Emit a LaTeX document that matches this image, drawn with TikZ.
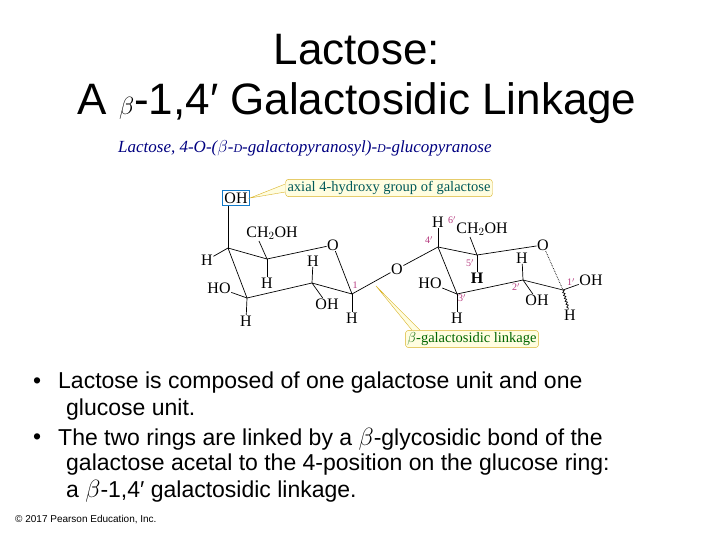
\documentclass[tikz,border=0pt]{standalone}
\usepackage{fontspec}
\setmainfont{Liberation Sans}
\newfontfamily\serif{Liberation Serif}
\usetikzlibrary{decorations.pathmorphing}
\newcommand{\smD}{{\fontsize{12}{12}\selectfont D}}
\begin{document}
\begin{tikzpicture}[x=1pt,y=-1pt,
  atm/.style={font=\serif\fontsize{16}{16}\selectfont,inner sep=0.5pt},
  num/.style={font=\serif\fontsize{10}{10}\selectfont,text=magenta!70!black,inner sep=0pt},
  bond/.style={line width=0.7pt},
  call/.style={draw=brown!60!yellow,fill=yellow!12,rounded corners=3pt,font=\serif\fontsize{14.5}{14.5}\selectfont,text=teal!70!black,inner sep=2pt},
  btxt/.style={anchor=west,font=\fontsize{23}{23}\selectfont,inner sep=0}]
\useasboundingbox (0,0) rectangle (720,540);
\node (t1) at (357,50) {\fontsize{44}{44}\selectfont Lactose:};
\node (t2) at (357,103) {\fontsize{44}{44}\selectfont A $\beta$-1,4′ Galactosidic Linkage};
\node[anchor=west,text=blue!50!black,inner sep=0] (sub) at (118,148) {\serif\itshape\fontsize{17}{17}\selectfont Lactose, 4-O-($\beta$-\smD-galactopyranosyl)-\smD-glucopyranose};
% galactose ring
\coordinate (c4) at (228,248); \coordinate (c5) at (267,259);
\coordinate (o5) at (333,245); \coordinate (c1) at (352,294);
\coordinate (c2) at (312,283); \coordinate (c3) at (247,298);
\node[atm] (o5n) at (o5) {O};
\draw[bond] (c4)--(c5)--(o5n) (o5n)--(c1)--(c2)--(c3)--(c4);
\node[atm,draw=cyan!60!blue,line width=0.9pt,inner sep=2pt] (ohbox) at (236,198) {OH};
\draw[bond] (c4)--(ohbox.south -| c4);
\node[atm] (h4) at (207,260) {H}; \draw[bond] (c4)--(h4);
\node[atm] (ch2a) at (272,233) {CH$_2$OH}; \draw[bond] (c5)--(259,241);
\node[atm] (h5) at (267,283) {H}; \draw[bond] (c5)--(h5);
\node[atm] (ho3) at (219,288) {HO}; \draw[bond] (c3)--(ho3);
\node[atm] (h3) at (246,321) {H}; \draw[bond] (c3)--(h3);
\node[atm] (h2) at (313,261) {H}; \draw[bond] (c2)--(h2);
\node[atm] (oh2) at (327,304) {OH}; \draw[bond] (c2)--(oh2);
\node[atm] (h1) at (352,318) {H}; \draw[bond] (c1)--(h1);
\node[num] (n1) at (355,285) {1};
\node[atm] (og) at (397,269) {O};
\draw[bond] (c1)--(og);
% glucose ring
\coordinate (d4) at (438,247); \coordinate (d5) at (477,255);
\coordinate (o6) at (543,245); \coordinate (d1) at (563,290);
\coordinate (d2) at (523,280); \coordinate (d3) at (457,294);
\draw[bond] (og)--(d4);
\node[atm] (o6n) at (o6) {O};
\draw[bond] (d4)--(d5)--(o6n);
\draw[bond,densely dotted] (o6n)--(d1);
\draw[bond] (d1)--(d2)--(d3)--(d4);
\node[atm] (h4b) at (438,222) {H}; \draw[bond] (d4)--(h4b);
\node[atm] (ch2b) at (482,229) {CH$_2$OH}; \draw[bond] (d5)--(470,237);
\node[num] (n6) at (452,220) {6$'$};
\node[num] (n4) at (429,240) {4$'$};
\node[num] (n5) at (470,263) {5$'$};
\node[atm,font=\serif\bfseries\fontsize{16}{16}\selectfont] (h5b) at (477,278) {H}; \draw[bond] (d5)--(h5b);
\node[atm] (ho3b) at (430,283) {HO}; \draw[bond] (d3)--(ho3b);
\node[atm] (h3b) at (457,318) {H}; \draw[bond] (d3)--(h3b);
\node[num] (n3) at (462,298) {3$'$};
\node[atm] (h2b) at (522,258) {H}; \draw[bond] (d2)--(h2b);
\node[atm] (oh2b) at (537,300) {OH}; \draw[bond] (d2)--(oh2b);
\node[num] (n2) at (516,287) {2$'$};
\node[atm] (oh1b) at (591,280) {OH}; \draw[bond] (d1)--(oh1b);
\node[num] (n1b) at (571,282) {1$'$};
\node[atm] (h1b) at (570,315) {H};
\draw[bond,decorate,decoration={snake,amplitude=1pt,segment length=3pt}] (d1)--(h1b);
% callouts
\node[call] (ca) at (389,188) {axial 4-hydroxy group of galactose};
\draw[brown!60!yellow,fill=yellow!12] (ca.west |- 0,184) -- (ohbox.east) -- (ca.west |- 0,192);
\node[call,text=green!40!black] (cb) at (472,339) {$\beta$-galactosidic linkage};
\coordinate (lk) at (376,286);
\draw[brown!60!yellow,fill=yellow!12] (412,0 |- cb.north) -- (lk) -- (420,0 |- cb.north);
% bullets
\node[btxt] (b1) at (33,383) {•};
\node[btxt] (l1) at (58,383) {Lactose is composed of one galactose unit and one};
\node[btxt] (l2) at (66,410) {glucose unit.};
\node[btxt] (b2) at (33,439) {•};
\node[btxt] (l3) at (58,439) {The two rings are linked by a $\beta$-glycosidic bond of the};
\node[btxt] (l4) at (66,465) {galactose acetal to the 4-position on the glucose ring:};
\node[btxt] (l5) at (66,491) {a $\beta$-1,4′ galactosidic linkage.};
\node[anchor=west,font=\fontsize{10}{10}\selectfont,inner sep=0] (cp) at (15,520) {© 2017 Pearson Education, Inc.};
\end{tikzpicture}
\end{document}
